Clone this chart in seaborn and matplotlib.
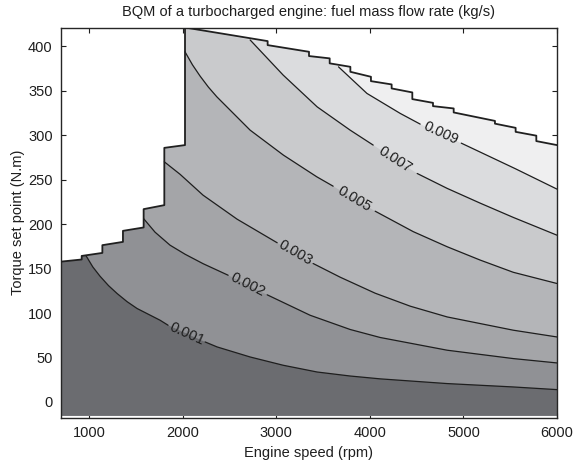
import numpy as np
import matplotlib
matplotlib.use("Agg")
import matplotlib.pyplot as plt
import seaborn as sns

# ---------------- data ----------------
TITLE = "BQM of a turbocharged engine: fuel mass flow rate (kg/s)"
X_LABEL = "Engine speed (rpm)"
Y_LABEL = "Torque set point (N.m)"
X_TICKS = [1000, 2000, 3000, 4000, 5000, 6000]
Y_TICKS = [0, 50, 100, 150, 200, 250, 300, 350, 400]

# max-torque boundary (stepped), engine speed (rpm) / torque (N.m)
BND_N = [700, 921, 921, 1142, 1142, 1362, 1362, 1583, 1583, 1804, 1804, 2025, 2025,
         2908, 2908, 3350, 3350, 3571, 3571, 3792, 3792, 4012, 4012, 4233, 4233,
         4454, 4454, 4675, 4675, 4896, 4896, 5337, 5337, 5558, 5558, 5779, 5779, 6000]
BND_T = [157.8, 160.2, 164.2, 167.6, 176.3, 180.0, 192.4, 196.2, 216.8, 221.3, 285.7, 288.8, 421.0,
         405.7, 401.2, 393.7, 388.9, 386.3, 380.7, 376.8, 371.2, 365.6, 360.7, 357.0, 352.5,
         348.0, 340.5, 336.3, 332.6, 330.0, 325.5, 316.0, 312.9, 308.2, 303.7, 299.4, 293.3, 288.8]

LEVEL_LABELS = ["0.001", "0.002", "0.003", "0.005", "0.007", "0.009"]

L1_N = [967, 1040, 1117, 1208, 1300, 1406, 1513, 1759, 1844, 2240, 2368, 2721, 3074, 3437, 3790,
        4111, 4827, 5533, 6000]
L1_T = [164.5, 151.8, 141.4, 130.8, 121.9, 112.8, 105.1, 91.9, 86.3, 67.5, 61.9, 50.6, 41.3, 33.7, 29.2,
        26.0, 20.7, 16.9, 13.9]

L2_N = [1583, 1705, 1865, 2026, 2218, 2486, 2903, 3362, 3790, 4111, 4827, 5533, 6000]
L2_T = [206.1, 190.9, 176.3, 166.1, 155.5, 142.5, 120.5, 97.5, 81.5, 72.5, 58.2, 48.8, 43.9]

L3_N = [1804, 1972, 2218, 2582, 2721, 3010, 3394, 3683, 4057, 4432, 4827, 5533, 6000]
L3_T = [270.0, 256.0, 232.5, 205.5, 196.9, 179.0, 155.7, 140.3, 122.3, 107.7, 95.6, 80.7, 73.1]

L5_N = [2025, 2105, 2186, 2275, 2365, 2721, 3077, 3434, 3608, 4057, 4464, 4827, 5180, 5533, 6000]
L5_T = [393.7, 379.0, 366.4, 354.0, 343.1, 305.6, 277.5, 253.1, 242.6, 214.5, 191.5, 174.5, 159.5,
        145.8, 133.2]

L7_N = [2721, 3074, 3437, 3790, 4036, 4506, 4827, 5180, 5533, 6000]
L7_T = [407.0, 367.5, 331.8, 305.6, 288.8, 256.9, 240.1, 223.5, 207.5, 187.5]

L9_N = [3665, 3969, 4325, 4538, 4977, 5554, 6000]
L9_T = [376.8, 346.9, 324.4, 312.4, 291.0, 262.3, 239.3]

LEVEL_N = [L1_N, L2_N, L3_N, L5_N, L7_N, L9_N]
LEVEL_T = [L1_T, L2_T, L3_T, L5_T, L7_T, L9_T]
LABEL_GAP = [8, 5, 5, 8, 4, 3]   # label sits between point i and i+1

FILL_COLORS = ["#6b6c70", "#909195", "#a4a5a8", "#b4b5b8", "#c9cacc", "#dbdcde", "#efeff0"]
T_FLOOR = -15.5
X_LIM = (700, 6000)
Y_LIM = (-18, 421)

# ---------------- styling ----------------
sns.set_theme(style="ticks")
plt.rcParams["font.family"] = ["Liberation Sans", "DejaVu Sans"]
TXT = "#1e1e1e"

fig = plt.figure(figsize=(5.74, 4.66), dpi=100)
ax = fig.add_axes([61 / 574, 1 - 418 / 466, (557 - 61) / 574, (418 - 27.5) / 466])
ax.set_xlim(*X_LIM)
ax.set_ylim(*Y_LIM)


def below_polygon(cn, ct):
    sn, st = cn[0], ct[0]
    pts = []
    for n, t in zip(BND_N, BND_T):
        if n < sn or (n == sn and t <= st):
            pts.append((n, t))
        else:
            break
    pts += list(zip(cn, ct))
    pts += [(X_LIM[1], T_FLOOR), (X_LIM[0], T_FLOOR)]
    return np.array(pts, dtype=float)


# lightest region: everything under the boundary
full = np.array(list(zip(BND_N, BND_T)) + [(X_LIM[1], T_FLOOR), (X_LIM[0], T_FLOOR)], dtype=float)
ax.fill(full[:, 0], full[:, 1], color=FILL_COLORS[6], lw=0, zorder=1)
for k in range(len(LEVEL_N) - 1, -1, -1):
    poly = below_polygon(LEVEL_N[k], LEVEL_T[k])
    ax.fill(poly[:, 0], poly[:, 1], color=FILL_COLORS[k], lw=0, zorder=1)

# contour lines with gaps for labels
for k in range(len(LEVEL_N)):
    n = LEVEL_N[k]
    t = LEVEL_T[k]
    g = LABEL_GAP[k]
    sns.lineplot(x=n[:g + 1], y=t[:g + 1], sort=False, estimator=None, color=TXT, lw=0.9, ax=ax, zorder=3)
    sns.lineplot(x=n[g + 1:], y=t[g + 1:], sort=False, estimator=None, color=TXT, lw=0.9, ax=ax, zorder=3)
    p0 = ax.transData.transform((n[g], t[g]))
    p1 = ax.transData.transform((n[g + 1], t[g + 1]))
    ang = np.degrees(np.arctan2(p1[1] - p0[1], p1[0] - p0[0]))
    ax.text((n[g] + n[g + 1]) / 2, (t[g] + t[g + 1]) / 2, LEVEL_LABELS[k], rotation=ang,
            rotation_mode="anchor", ha="center", va="center", fontsize=10.5, color=TXT, zorder=4)

# boundary line
sns.lineplot(x=BND_N, y=BND_T, sort=False, estimator=None, color="#202020", lw=1.3, ax=ax, zorder=5)

ax.set_xticks(X_TICKS)
ax.set_yticks(Y_TICKS)
ax.tick_params(direction="in", top=True, right=True, length=3.5, width=0.8, pad=6,
               labelsize=10.5, colors=TXT)
for s in ax.spines.values():
    s.set_visible(True)
    s.set_color("#262626")
    s.set_linewidth(1.0)
ax.set_xlabel(X_LABEL, fontsize=10.5, color=TXT, labelpad=4)
ax.set_ylabel(Y_LABEL, fontsize=10.5, color=TXT, labelpad=2)
ax.set_title(TITLE, fontsize=10.5, color=TXT, pad=8)

fig.savefig("out.png", dpi=100)
